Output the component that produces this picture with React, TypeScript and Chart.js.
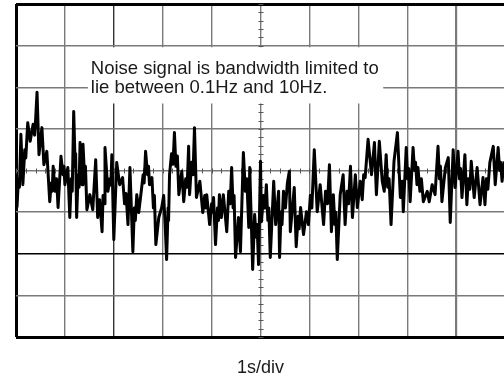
import React, { useEffect, useRef } from "react";
import { Chart, registerables } from "chart.js";

Chart.register(...registerables);

// [time in seconds (1 s/div), signal in vertical divisions]
const trace0to2s5: [number, number][] = [
  [0.02, -0.89], [0.05, -0.2], [0.07, -0.4], [0.10, 0.87], [0.14, -0.34], [0.18, 0.5], [0.20, 0.3], [0.24, 1.15],
  [0.29, 0.70], [0.35, 1.11], [0.38, 0.85], [0.40, 1.2], [0.43, 1.88], [0.47, 0.38], [0.53, 1.03], [0.57, 0.14],
  [0.63, 0.46], [0.69, -0.75], [0.72, -0.3], [0.74, -0.5], [0.76, 0.10], [0.80, -0.5], [0.83, -0.2], [0.86, -0.89],
  [0.92, 0.34], [0.96, -0.1], [0.98, 0.1], [1.00, -0.34], [1.06, 0.07], [1.10, -1.13], [1.13, -0.2], [1.15, -0.5],
  [1.18, 1.42], [1.21, 0.1], [1.22, 0.4], [1.24, -1.13], [1.27, -0.1], [1.29, -0.4], [1.31, 0.67], [1.35, -0.34],
  [1.37, 0.63], [1.40, -0.1], [1.42, 0.1], [1.45, -0.94], [1.51, -0.58], [1.57, -0.94], [1.63, 0.26], [1.67, -1.13],
  [1.71, -0.7], [1.76, -1.47], [1.78, -0.6], [1.80, -0.8], [1.82, 0.55], [1.88, -0.50], [1.92, -0.2], [1.94, -0.35],
  [1.96, 0.38], [2.00, -1.66], [2.06, 0.19], [2.12, -0.34], [2.18, -0.17], [2.22, -0.8], [2.25, -0.55], [2.29, -1.30],
  [2.33, 0.07], [2.39, -1.95], [2.42, -0.9], [2.44, -1.2], [2.47, -0.58],
];

const trace2s5to5: [number, number][] = [
  [2.51, -1.01], [2.57, -0.41], [2.60, -0.1], [2.62, -0.3], [2.65, 0.46], [2.69, -0.1], [2.71, 0.1], [2.73, -0.34],
  [2.78, -0.17], [2.81, -0.9], [2.83, -0.6], [2.86, -1.78], [2.92, -1.13], [2.98, -0.89], [3.02, -0.6], [3.05, -1.3],
  [3.08, -2.14], [3.11, -0.9], [3.12, -1.2], [3.14, -0.10], [3.18, 0.4], [3.21, 0.15], [3.24, 0.91], [3.27, 0.1],
  [3.30, 0.35], [3.33, -0.58], [3.39, -0.02], [3.43, -0.75], [3.47, -0.2], [3.50, -0.4], [3.53, 0.58], [3.55, -0.58],
  [3.59, 0.2], [3.62, -0.1], [3.65, 1.03], [3.69, -0.65], [3.76, -0.26], [3.82, -1.01], [3.86, -0.6], [3.88, -0.9],
  [3.90, -0.58], [3.96, -1.30], [4.00, -0.8], [4.02, -1.0], [4.04, -0.65], [4.08, -1.78], [4.12, -0.9], [4.14, -1.2],
  [4.16, -0.58], [4.20, -1.13], [4.24, -0.58], [4.31, -1.47], [4.35, -0.5], [4.38, -0.8], [4.41, 0.07], [4.44, -0.9],
  [4.46, -0.6], [4.49, -2.09], [4.55, -1.13], [4.59, -1.95], [4.65, 0.43], [4.69, -0.5], [4.72, -0.2], [4.76, -1.37],
  [4.78, 0.07], [4.84, -2.38], [4.88, -1.06], [4.91, -1.6], [4.93, -1.3], [4.96, -2.26], [5.00, 0.22],
];

const trace5to7s5: [number, number][] = [
  [5.02, -1.23], [5.06, -0.6], [5.09, -0.9], [5.12, -0.34], [5.15, -1.2], [5.17, -0.9], [5.20, -2.09], [5.27, -0.26],
  [5.31, -1.30], [5.37, -0.50], [5.39, -2.09], [5.42, -1.0], [5.44, -1.3], [5.47, -0.50], [5.51, -0.9], [5.55, -0.3],
  [5.59, -0.02], [5.61, -1.47], [5.69, -0.41], [5.73, -1.83], [5.77, -1.1], [5.79, -1.4], [5.82, -0.89], [5.88, -1.54],
  [5.94, -0.99], [5.98, -1.30], [6.02, -0.6], [6.05, -0.9], [6.10, 0.50], [6.16, -0.99], [6.22, -0.34], [6.29, -1.30],
  [6.33, -0.5], [6.37, -0.8], [6.41, 0.14], [6.45, -1.47], [6.49, -0.58], [6.52, -1.3], [6.54, -1.0], [6.57, -2.14],
  [6.63, -0.58], [6.69, -0.10], [6.73, -1.30], [6.77, -0.5], [6.80, -0.8], [6.84, 0.10], [6.88, -1.13], [6.94, -0.10],
  [6.98, -0.89], [7.04, -0.26], [7.08, -0.7], [7.11, -0.1], [7.14, -0.17], [7.20, 0.75], [7.27, -0.10], [7.33, 0.67],
  [7.37, -0.58], [7.43, 0.70], [7.49, -0.26],
];

const trace7s5to10: [number, number][] = [
  [7.53, -0.50], [7.57, 0.38], [7.60, -0.4], [7.63, -0.2], [7.67, -1.30], [7.73, 0.22], [7.80, 0.91], [7.86, -0.65],
  [7.90, -0.26], [7.92, -0.99], [7.98, 0.55], [8.01, -0.2], [8.03, 0.05], [8.06, -0.75], [8.12, 0.55], [8.15, 0.0],
  [8.17, 0.2], [8.20, -0.34], [8.22, 0.07], [8.26, -0.5], [8.29, -0.2], [8.33, -0.75], [8.41, -0.50], [8.45, -0.75],
  [8.51, -0.34], [8.57, -0.58], [8.63, 0.58], [8.66, -0.2], [8.68, 0.1], [8.71, -0.75], [8.78, 0.07], [8.84, 0.31],
  [8.88, -1.25], [8.94, 0.50], [8.98, -0.41], [9.04, 0.46], [9.07, -0.2], [9.09, 0.05], [9.12, -0.65], [9.18, 0.38],
  [9.22, -0.82], [9.25, -0.2], [9.28, -0.45], [9.31, 0.22], [9.37, -0.65], [9.43, 0.07], [9.49, -0.82], [9.55, -0.17],
  [9.59, -0.82], [9.62, -0.2], [9.65, -0.45], [9.69, 0.19], [9.76, 0.58], [9.80, -0.34], [9.86, 0.55], [9.89, 0.0],
  [9.91, 0.2], [9.94, -0.26], [9.98, 0.22],
];

const xRange = [0, 10];
const yRange = [-4, 4];
const noteLines = ["Noise signal is bandwidth limited to", "lie between 0.1Hz and 10Hz."];
const xAxisLabel = "1s/div";

const scopePlugin = {
  id: "scopeDecor",
  beforeDatasetsDraw(chart: any) {
    const { ctx } = chart;
    const x = chart.scales.x;
    const y = chart.scales.y;
    ctx.save();
    ctx.beginPath();
    ctx.strokeStyle = "#555";
    ctx.lineWidth = 1;
    const cx = Math.round(x.getPixelForValue(5));
    const cy = Math.round(y.getPixelForValue(0));
    for (let i = -20; i <= 20; i++) {
      const py = Math.round(y.getPixelForValue(i * 0.2)) + 0.5;
      ctx.moveTo(cx - 2.5, py);
      ctx.lineTo(cx + 2.5, py);
    }
    for (let i = 0; i <= 50; i++) {
      const px = Math.round(x.getPixelForValue(i * 0.2)) + 0.5;
      ctx.moveTo(px, cy - 2.5);
      ctx.lineTo(px, cy + 2.5);
    }
    ctx.stroke();
    const bx0 = x.getPixelForValue(1.47);
    const bx1 = x.getPixelForValue(7.51);
    const by0 = y.getPixelForValue(2.96);
    const by1 = y.getPixelForValue(1.61);
    ctx.fillStyle = "#ffffff";
    ctx.fillRect(bx0, by0, bx1 - bx0, by1 - by0);
    ctx.fillStyle = "#1a1a1a";
    ctx.font = '18.5px "Liberation Sans", Arial, sans-serif';
    ctx.textBaseline = "alphabetic";
    ctx.textAlign = "left";
    ctx.fillText(noteLines[0], x.getPixelForValue(1.53), y.getPixelForValue(2.33));
    ctx.fillText(noteLines[1], x.getPixelForValue(1.53), y.getPixelForValue(1.85));
    ctx.restore();
  },
};

export default function App() {
  const ref = useRef<HTMLCanvasElement | null>(null);
  useEffect(() => {
    if (!ref.current) return;
    const points = [...trace0to2s5, ...trace2s5to5, ...trace5to7s5, ...trace7s5to10].map(([t, v]) => ({ x: t, y: v }));
    const chart = new Chart(ref.current, {
      type: "line",
      data: {
        datasets: [
          {
            data: points,
            borderColor: "#000000",
            borderWidth: 3,
            borderJoinStyle: "round",
            pointRadius: 0,
            tension: 0,
            fill: false,
          },
        ],
      },
      options: {
        animation: false,
        responsive: false,
        events: [],
        layout: { padding: { left: 16, top: 4, right: 5, bottom: 0 } },
        plugins: { legend: { display: false }, tooltip: { enabled: false } },
        scales: {
          x: {
            type: "linear",
            min: xRange[0],
            max: xRange[1],
            ticks: { display: false, stepSize: 1 },
            border: { display: false },
            grid: {
              drawTicks: false,
              color: (c: any) => (c.tick && c.tick.value === 0 ? "#000" : c.tick && c.tick.value === 2 ? "#333" : "#7a7a7a"),
              lineWidth: (c: any) => (c.tick && c.tick.value === 0 ? 3 : c.tick && c.tick.value === 9 ? 2.2 : 1.4),
            },
            title: {
              display: true,
              text: xAxisLabel,
              color: "#1a1a1a",
              font: { family: '"Liberation Sans", Arial, sans-serif', size: 18 },
              padding: { top: 20.2, bottom: 2.2 },
            },
          },
          y: {
            type: "linear",
            min: yRange[0],
            max: yRange[1],
            ticks: { display: false, stepSize: 1 },
            border: { display: false },
            grid: {
              drawTicks: false,
              color: (c: any) =>
                c.tick && (c.tick.value === 4 || c.tick.value === -4 || c.tick.value === -2) ? "#000" : "#7a7a7a",
              lineWidth: (c: any) => (c.tick && (c.tick.value === 4 || c.tick.value === -4) ? 3 : 1.4),
            },
          },
        },
      },
      plugins: [scopePlugin],
    });
    return () => chart.destroy();
  }, []);
  return (
    <div style={{ position: "absolute", left: 0, top: 0, width: 504, height: 381, overflow: "hidden", background: "#fff" }}>
      <canvas ref={ref} width={510} height={381} style={{ display: "block", width: 510, height: 381 }} />
    </div>
  );
}
